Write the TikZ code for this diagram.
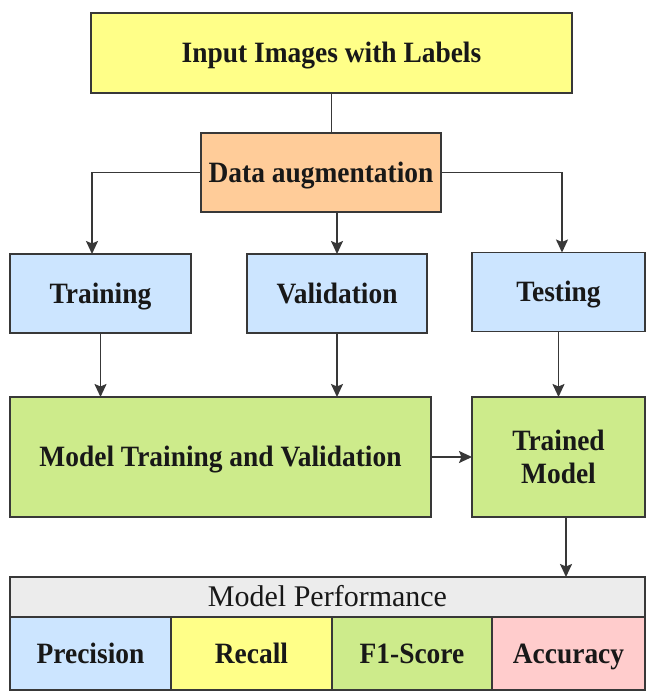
\documentclass[tikz,border=0pt]{standalone}
\usepackage{fontspec}
\setmainfont{Liberation Serif}
\usepackage{graphicx}
\usepackage{tikz}
\usetikzlibrary{arrows.meta}
\definecolor{inYellow}{HTML}{FFFF88}
\definecolor{augOrange}{HTML}{FFCC99}
\definecolor{splitBlue}{HTML}{CCE5FF}
\definecolor{modelGreen}{HTML}{CDEB8B}
\definecolor{perfGray}{HTML}{ECECEC}
\definecolor{accPink}{HTML}{FFCCCC}
\definecolor{edgeGray}{HTML}{383838}
\definecolor{textDark}{HTML}{181818}
\newcommand{\tall}[1]{\scalebox{0.93}[1]{\smash{#1}\vphantom{I}}}

\begin{document}
\begin{tikzpicture}[x=1pt, y=-1pt,
  box/.style={draw=edgeGray, line width=1.6pt, inner sep=0pt, outer sep=0pt, align=center, text=textDark, font=\bfseries\fontsize{29.5}{33}\selectfont},
  link/.style={draw=edgeGray, line width=1.7pt},
  arr/.style={link, -{Stealth[length=13pt,width=12pt,inset=2.5pt]}}]
\useasboundingbox[fill=white] (0,0) rectangle (647,691);
\node[box,fill=inYellow,minimum width=481pt,minimum height=80pt] (input) at (331.5,53) {\tall{Input Images with Labels}};
\node[box,fill=augOrange,minimum width=240pt,minimum height=79pt] (aug) at (321,172.5) {\tall{Data augmentation}};
\node[box,fill=splitBlue,minimum width=181pt,minimum height=79pt] (train) at (100.5,293.5) {\tall{Training}};
\node[box,fill=splitBlue,minimum width=180pt,minimum height=79pt] (val) at (337,293.5) {\tall{Validation}};
\node[box,fill=splitBlue,minimum width=173pt,minimum height=79pt] (test) at (558.5,292) {\tall{Testing}};
\node[box,fill=modelGreen,minimum width=421pt,minimum height=120pt] (mtv) at (220.5,457) {\tall{Model Training and Validation}};
\node[box,fill=modelGreen,minimum width=173pt,minimum height=120pt] (trained) at (558.5,457) {\tall{Trained}\\\tall{Model}};
\node[box,fill=perfGray,font=\fontsize{30}{33}\selectfont,minimum width=635pt,minimum height=40pt] (perf) at (327.5,597) {\smash{Model Performance}\vphantom{I}};
\node[box,fill=splitBlue,minimum width=161pt,minimum height=73pt] (prec) at (90.5,653.5) {\tall{Precision}};
\node[box,fill=inYellow,minimum width=161pt,minimum height=73pt] (rec) at (251.5,653.5) {\tall{Recall}};
\node[box,fill=modelGreen,minimum width=160pt,minimum height=73pt] (f1) at (412,653.5) {\tall{F1-Score}};
\node[box,fill=accPink,minimum width=153pt,minimum height=73pt] (acc) at (568.5,653.5) {\tall{Accuracy}};
\draw[link] (input.south) -- (input.south |- aug.north);
\draw[arr] (aug.west) -| ([xshift=-8.5pt]train.north);
\draw[arr] (val.north |- aug.south) -- (val.north);
\draw[arr] (aug.east) -| ([xshift=3.5pt]test.north);
\draw[arr] (train.south) -- (train.south |- mtv.north);
\draw[arr] (val.south) -- (val.south |- mtv.north);
\draw[arr] (test.south) -- (trained.north);
\draw[arr] (mtv.east) -- (trained.west);
\draw[arr] ([xshift=7.5pt]trained.south) -- ([xshift=7.5pt]trained.south |- perf.north);
\end{tikzpicture}
\end{document}
